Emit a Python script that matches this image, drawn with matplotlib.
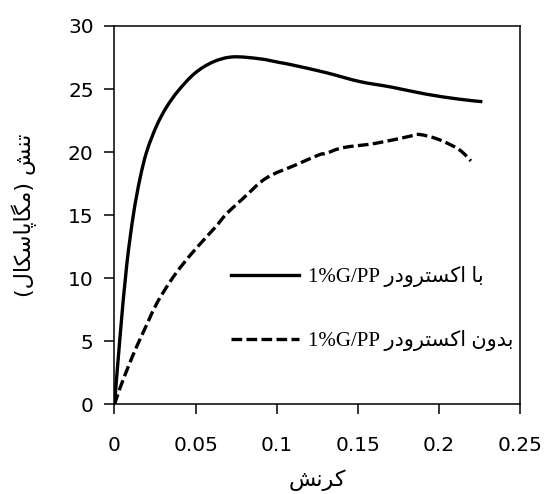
import matplotlib
matplotlib.use("Agg")
import matplotlib.pyplot as plt
from matplotlib.path import Path
from matplotlib.patches import PathPatch
from matplotlib.lines import Line2D

# ---------------- data ----------------
strain_with = [0, 0.0035, 0.0075, 0.0116, 0.0157, 0.0200, 0.026, 0.032, 0.0392, 0.0495,
               0.0608, 0.073, 0.0895, 0.102, 0.110, 0.1305, 0.151, 0.171, 0.192, 0.2125,
               0.2268]
stress_with = [0, 5.5, 11.0, 15.0, 17.9, 20.1, 22.1, 23.55, 24.85, 26.25,
               27.15, 27.55, 27.4, 27.1, 26.9, 26.3, 25.6, 25.15, 24.6, 24.2,
               24.0]

strain_without = [0, 0.0034, 0.0085, 0.0137, 0.0198, 0.026, 0.0341, 0.0408, 0.0505, 0.0618,
                  0.069, 0.079, 0.0936, 0.112, 0.1264, 0.1305, 0.1406, 0.161, 0.1817,
                  0.188, 0.200, 0.2125, 0.2197]
stress_without = [0, 1.3, 3.0, 4.6, 6.3, 8.0, 9.7, 10.9, 12.4, 14.0,
                  15.1, 16.3, 17.95, 19.0, 19.8, 19.9, 20.35, 20.7, 21.25,
                  21.4, 21.0, 20.2, 19.3]

x_ticks = [0, 0.05, 0.1, 0.15, 0.2, 0.25]
x_tick_labels = ["0", "0.05", "0.1", "0.15", "0.2", "0.25"]
y_ticks = [0, 5, 10, 15, 20, 25, 30]

label_with_ar = "با اکسترودر"
label_without_ar = "بدون اکسترودر"
label_material = "1%G/PP"
x_label_ar = "کرنش"
y_label_ar = "تنش (مگاپاسکال)"

# ------------- minimal Arabic/Persian shaping (presentation forms) -------------
FORMS = {  # isolated, final, initial, medial
    "\u0627": ("\uFE8D", "\uFE8E", None, None),
    "\u0628": ("\uFE8F", "\uFE90", "\uFE91", "\uFE92"),
    "\u062A": ("\uFE95", "\uFE96", "\uFE97", "\uFE98"),
    "\u062F": ("\uFEA9", "\uFEAA", None, None),
    "\u0631": ("\uFEAD", "\uFEAE", None, None),
    "\u0633": ("\uFEB1", "\uFEB2", "\uFEB3", "\uFEB4"),
    "\u0634": ("\uFEB5", "\uFEB6", "\uFEB7", "\uFEB8"),
    "\u0644": ("\uFEDD", "\uFEDE", "\uFEDF", "\uFEE0"),
    "\u0645": ("\uFEE1", "\uFEE2", "\uFEE3", "\uFEE4"),
    "\u0646": ("\uFEE5", "\uFEE6", "\uFEE7", "\uFEE8"),
    "\u0648": ("\uFEED", "\uFEEE", None, None),
    "\u067E": ("\uFB56", "\uFB57", "\uFB58", "\uFB59"),
    "\u06A9": ("\uFB8E", "\uFB8F", "\uFB90", "\uFB91"),
    "\u06AF": ("\uFB92", "\uFB93", "\uFB94", "\uFB95"),
}
MIRROR = {"(": ")", ")": "("}


def shape_rtl(text):
    out = []
    n = len(text)
    for i, ch in enumerate(text):
        if ch not in FORMS:
            out.append(ch)
            continue
        prev = text[i - 1] if i > 0 else None
        nxt = text[i + 1] if i < n - 1 else None
        join_prev = prev in FORMS and FORMS[prev][2] is not None
        join_next = nxt in FORMS and FORMS[ch][2] is not None
        iso, fin, ini, med = FORMS[ch]
        if join_prev and join_next:
            out.append(med)
        elif join_prev:
            out.append(fin)
        elif join_next:
            out.append(ini)
        else:
            out.append(iso)
    return "".join(MIRROR.get(c, c) for c in reversed(out))


def smooth_path(xs, ys):
    """Excel-style smoothed line: Catmull-Rom segments as cubic Beziers."""
    pts = list(zip(xs, ys))
    n = len(pts)
    verts = [pts[0]]
    codes = [Path.MOVETO]
    for i in range(n - 1):
        p0 = pts[i - 1] if i > 0 else pts[i]
        p1 = pts[i]
        p2 = pts[i + 1]
        p3 = pts[i + 2] if i + 2 < n else pts[i + 1]
        c1 = (p1[0] + (p2[0] - p0[0]) / 6, p1[1] + (p2[1] - p0[1]) / 6)
        c2 = (p2[0] - (p3[0] - p1[0]) / 6, p2[1] - (p3[1] - p1[1]) / 6)
        verts += [c1, c2, p2]
        codes += [Path.CURVE4] * 3
    return Path(verts, codes)


# ---------------- figure ----------------
plt.rcParams["font.family"] = ["DejaVu Sans"]
fig = plt.figure(figsize=(5.51, 4.94), dpi=100)
ax = fig.add_axes([0.2078, 0.1812, 0.7359, 0.7662])

LW = 2.4
DASH = (0, (3.2, 1.3))
ax.add_patch(PathPatch(smooth_path(strain_with, stress_with), fill=False,
                       edgecolor="black", lw=LW, capstyle="butt"))
ax.add_patch(PathPatch(smooth_path(strain_without, stress_without), fill=False,
                       edgecolor="black", lw=LW, linestyle=DASH, capstyle="butt"))

ax.set_xlim(0, 0.25)
ax.set_ylim(0, 30)
ax.set_xticks(x_ticks)
ax.set_xticklabels(x_tick_labels)
ax.set_yticks(y_ticks)

for s in ax.spines.values():
    s.set_linewidth(1.1)
ax.tick_params(axis="both", direction="out", length=7, width=1.1, labelsize=14.5)
ax.tick_params(axis="x", pad=16)
ax.tick_params(axis="y", pad=8)

ax.set_xlabel(shape_rtl(x_label_ar), fontsize=16, labelpad=10)
ax.set_ylabel(shape_rtl(y_label_ar), fontsize=16, labelpad=22)

handles = [Line2D([], [], color="black", lw=LW),
           Line2D([], [], color="black", lw=LW, linestyle=DASH)]
labels = [label_material + " " + shape_rtl(label_with_ar),
          label_material + " " + shape_rtl(label_without_ar)]
leg = ax.legend(handles, labels, loc="upper left", bbox_to_anchor=(0.24, 0.415),
                frameon=False,
                prop={"family": ["Liberation Serif", "DejaVu Sans"], "size": 15},
                handlelength=3.3, handletextpad=0.4, labelspacing=2.05)

fig.savefig("out.png", dpi=100)
